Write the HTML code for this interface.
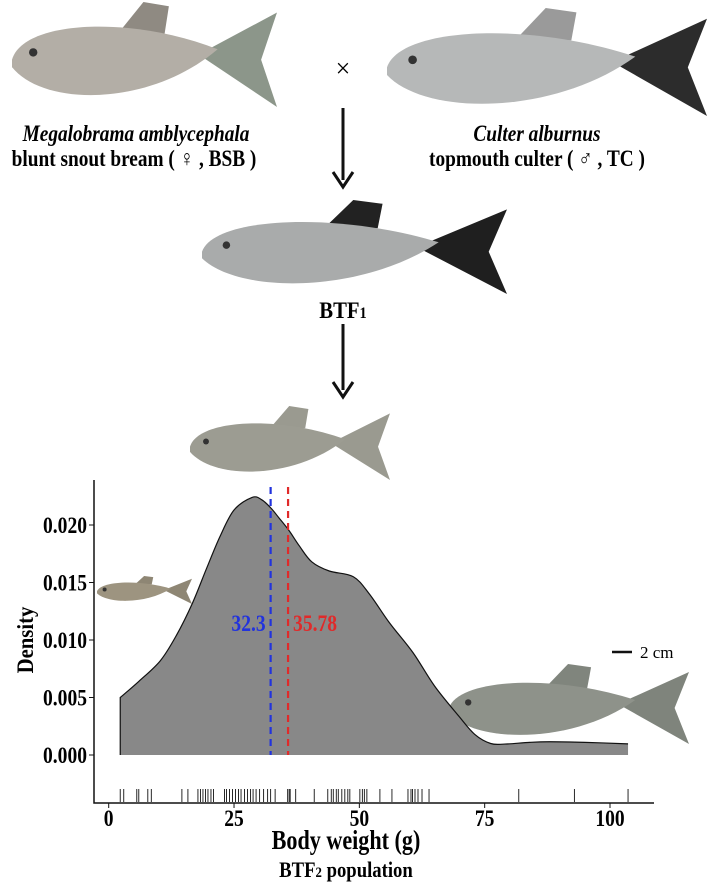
<!DOCTYPE html>
<html><head><meta charset="utf-8">
<style>
body{margin:0;background:#fff;}
svg{display:block;font-family:"Liberation Serif",serif;}
</style></head>
<body>
<svg id="root" width="710" height="882" viewBox="0 0 710 882">
<g id="fish-layer"></g>
<g id="chart"></g>
<g font-weight="bold" font-size="23" text-anchor="middle">
  <text x="136" y="141" font-style="italic" transform="translate(136 0) scale(0.84 1) translate(-136 0)">Megalobrama amblycephala</text>
  <text x="134" y="166" transform="translate(134 0) scale(0.84 1) translate(-134 0)">blunt snout bream ( ♀ , BSB )</text>
  <text x="537" y="141" font-style="italic" transform="translate(537 0) scale(0.84 1) translate(-537 0)">Culter alburnus</text>
  <text x="537" y="166" transform="translate(537 0) scale(0.84 1) translate(-537 0)">topmouth culter ( ♂ , TC )</text>
  <text x="343" y="77" font-weight="normal" font-size="26">×</text>
  <text x="343" y="318" transform="translate(343 0) scale(0.9 1) translate(-343 0)">BTF<tspan font-size="16">1</tspan></text>
</g>
<g>
  <line x1="343" y1="108" x2="343" y2="180" stroke="#111" stroke-width="3"/>
  <path d="M333 172 L343 187 L353 172" fill="none" stroke="#111" stroke-width="3"/>
</g>
<g>
  <line x1="343" y1="324" x2="343" y2="390" stroke="#111" stroke-width="3"/>
  <path d="M333 382 L343 397 L353 382" fill="none" stroke="#111" stroke-width="3"/>
</g>
<g>
  <line x1="612" y1="652" x2="632" y2="652" stroke="#111" stroke-width="2.5"/>
  <text x="640" y="658" font-size="17">2 cm</text>
</g>
</svg>
<script>
// ---- chart data ----
const densityX = [2.3, 6, 10.3, 13.5, 16.7, 19.5, 22.2, 25, 28.6, 30.5, 32.3, 34, 36, 38, 40.5, 44, 48.8, 52, 56, 60.7, 65, 69.8, 73, 76.2, 79, 84, 88, 95, 103.6];
const densityY = [0.0050, 0.0064, 0.0082, 0.0104, 0.0132, 0.0162, 0.0190, 0.0213, 0.0224, 0.0222, 0.0215, 0.0206, 0.0195, 0.0182, 0.0168, 0.0160, 0.0155, 0.0140, 0.0115, 0.0089, 0.0060, 0.0034, 0.0018, 0.0010, 0.00095, 0.0011, 0.00115, 0.00110, 0.00097];
const rugValues = [2.3,3,5.6,6,7.8,8.5,14.6,15.8,17.8,18.3,18.8,19.3,19.8,20.4,20.9,23.1,23.5,24.1,24.7,25.3,25.9,26.4,27.1,27.7,28.3,28.8,29.4,30.1,30.9,31.7,32.3,33.2,35.7,36,36.2,37.3,41,43.7,44.4,44.8,45.4,45.8,46.5,47.1,47.7,48.1,50.1,50.6,51,51.5,54.1,56.5,59.7,60.3,60.6,61.1,61.7,62.5,63.9,81.8,92.9,103.6];
const meanValues = [32.3, 35.78];
const meanLabels = ["32.3", "35.78"];
const xTicks = [0, 25, 50, 75, 100];
const yTicks = [0, 0.005, 0.010, 0.015, 0.020];
const yTickLabels = ["0.000", "0.005", "0.010", "0.015", "0.020"];

const NS = "http://www.w3.org/2000/svg";
function X(v){ return 108.7 + v * 5.013; }
function Y(v){ return 755 - v * 11500; }
function mk(tag, attrs, parent){
  const e = document.createElementNS(NS, tag);
  for (const k in attrs) e.setAttribute(k, attrs[k]);
  parent.appendChild(e); return e;
}
const chart = document.getElementById('chart');

let d = `M${X(densityX[0])},${Y(0)} L${X(densityX[0])},${Y(densityY[0])}`;
for (let i = 1; i < densityX.length; i++) {
  const x0 = X(densityX[i-1]), y0 = Y(densityY[i-1]), x1 = X(densityX[i]), y1 = Y(densityY[i]);
  const xp = i > 1 ? X(densityX[i-2]) : x0, yp = i > 1 ? Y(densityY[i-2]) : y0;
  const xn = i < densityX.length-1 ? X(densityX[i+1]) : x1, yn = i < densityX.length-1 ? Y(densityY[i+1]) : y1;
  const c1x = x0 + (x1 - xp)/6, c1y = y0 + (y1 - yp)/6, c2x = x1 - (xn - x0)/6, c2y = y1 - (yn - y0)/6;
  d += ` C${c1x},${c1y} ${c2x},${c2y} ${x1},${y1}`;
}
const topPath = d;
d += ` L${X(densityX[densityX.length-1])},${Y(0)} Z`;
const area = mk('path', {d: d, fill: '#888888', stroke: 'none'}, chart);


const outline = mk('path', {d: topPath, fill: 'none', stroke: '#111', 'stroke-width': 1.2}, chart);



const meanColors = ['#2233dd', '#e02a2a'];
meanValues.forEach((m, i) => {
  const l = mk('line', {x1: X(m), x2: X(m), y1: 487, y2: Y(0), stroke: meanColors[i], 'stroke-width': 2.2, 'stroke-dasharray': '7,5'}, chart);
  
  
  const tx = i === 0 ? X(m) - 5 : X(m) + 5;
  const t = mk('text', {x: tx, y: 631, fill: meanColors[i], 'font-size': 23, 'font-weight': 'bold', 'text-anchor': i === 0 ? 'end' : 'start', transform: `translate(${tx} 0) scale(0.85 1) translate(${-tx} 0)`}, chart);
  t.textContent = meanLabels[i];
  
  
});

rugValues.forEach(v => {
  const r = mk('line', {x1: X(v), x2: X(v), y1: 789, y2: 802, stroke: '#111', 'stroke-width': 0.9}, chart);
  
  
});

const ax = mk('path', {d: 'M94,480 L94,803 L654,803', fill: 'none', stroke: '#111', 'stroke-width': 1.5}, chart);


xTicks.forEach(v => {
  mk('line', {x1: X(v), x2: X(v), y1: 803, y2: 808, stroke: '#111'}, chart);
  const t = mk('text', {x: X(v), y: 826, 'font-size': 23, 'font-weight': 'bold', 'text-anchor': 'middle', transform: `translate(${X(v)} 0) scale(0.85 1) translate(${-X(v)} 0)`}, chart);
  t.textContent = v;
  
  
});
yTicks.forEach((v, i) => {
  mk('line', {x1: 89, x2: 94, y1: Y(v), y2: Y(v), stroke: '#111'}, chart);
  const t = mk('text', {x: 87, y: Y(v) + 8, 'font-size': 23, 'font-weight': 'bold', 'text-anchor': 'end', transform: `translate(87 0) scale(0.85 1) translate(-87 0)`}, chart);
  t.textContent = yTickLabels[i];
  
  
});
const xt = mk('text', {x: 346, y: 849, 'font-size': 27, 'font-weight': 'bold', 'text-anchor': 'middle', transform: 'translate(346 0) scale(0.82 1) translate(-346 0)'}, chart);
xt.textContent = 'Body weight (g)';


const yt = mk('text', {x: 0, y: 0, 'font-size': 23, 'font-weight': 'bold', 'text-anchor': 'middle', transform: 'translate(33 640) rotate(-90) scale(0.9 1)'}, chart);
yt.textContent = 'Density';


const pt = mk('text', {x: 346, y: 877, 'font-size': 22, 'font-weight': 'bold', 'text-anchor': 'middle', transform: 'translate(346 0) scale(0.85 1) translate(-346 0)'}, chart);
pt.innerHTML = 'BTF<tspan font-size="15">2</tspan> population';



const fl = document.getElementById('fish-layer');
function fish(name, x, y, w, h, body, tail, dorsal){
  const g = mk('g', {transform: `translate(${x} ${y})`}, fl);
  
  
  const bw = w * 0.8;
  mk('path', {d: `M${bw*0.5},${h*0.3} L${bw*0.62},0 L${bw*0.74},${h*0.04} L${bw*0.72},${h*0.3} Z`, fill: dorsal}, g);
  mk('path', {d: `M${bw*0.88},${h*0.5} L${w},${h*0.1} L${w*0.94},${h*0.55} L${w},${h} Z`, fill: tail}, g);
  mk('path', {d: `M0,${h*0.55} C${bw*0.05},${h*0.18} ${bw*0.55},${h*0.12} ${bw*0.97},${h*0.45} C${bw*0.65},${h*1.0} ${bw*0.15},${h*1.0} 0,${h*0.62} Z`, fill: body}, g);
  mk('circle', {cx: bw*0.1, cy: h*0.48, r: Math.max(2, h*0.04), fill: '#333'}, g);
}
fish('bsb-fish', 12, 2, 265, 105, '#b3aea6', '#8c968a', '#8f8a82');
fish('tc-fish', 387, 8, 320, 108, '#b6b8b8', '#2c2c2c', '#9a9a9a');
fish('btf1-fish', 202, 200, 305, 94, '#a9abab', '#1f1f1f', '#222');
fish('btf2-fish-top', 190, 406, 200, 74, '#9c9c92', '#9a9a90', '#9a9a90');
fish('btf2-fish-small', 97, 576, 95, 28, '#9d9480', '#8e8674', '#8e8674');
fish('btf2-fish-large', 449, 664, 240, 80, '#8e928a', '#7f847c', '#80857d');
</script>
</body></html>
